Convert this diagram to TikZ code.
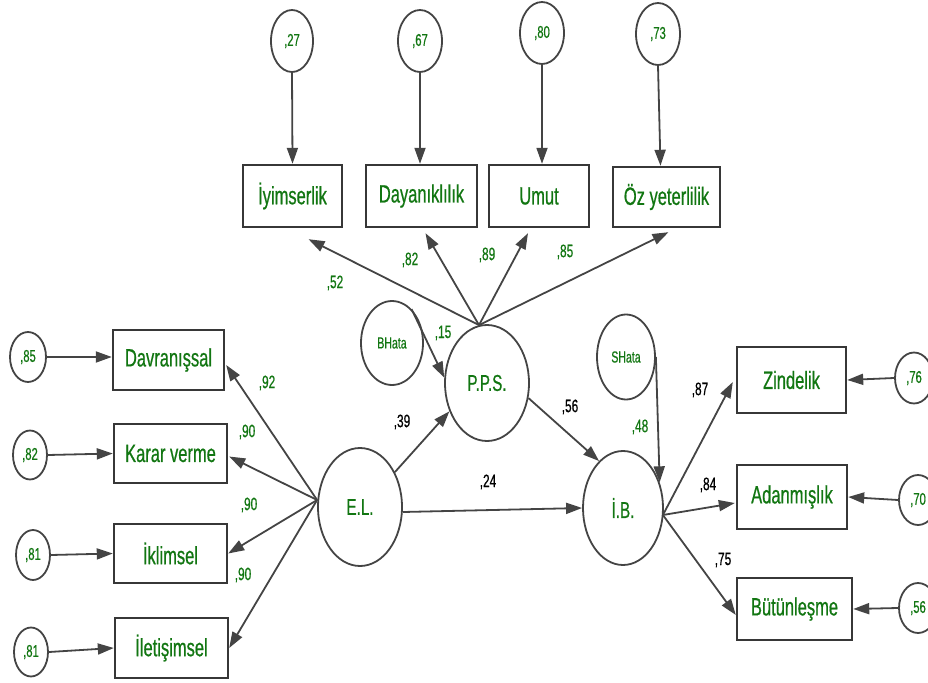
\documentclass[tikz,border=0pt]{standalone}
\usepackage{fontspec}
\setmainfont{Liberation Sans}[FakeStretch=0.66,FakeBold=0.6]
\usetikzlibrary{shapes.geometric,arrows.meta,calc}
\definecolor{txtgreen}{RGB}{18,118,18}
\definecolor{linegray}{RGB}{68,68,68}
\definecolor{boxgray}{RGB}{55,55,55}
\tikzset{
  obs/.style={draw=boxgray,line width=2.4pt,rectangle,inner sep=0pt,
    text=txtgreen,font=\fontsize{25}{27}\selectfont},
  latent/.style={draw=linegray,line width=1.8pt,ellipse,inner sep=0pt,
    text=txtgreen,font=\fontsize{23}{25}\selectfont},
  err/.style={draw=linegray,line width=1.8pt,ellipse,inner sep=0pt,
    text=txtgreen,font=\fontsize{17}{19}\selectfont},
  dist/.style={err,font=\fontsize{16}{18}\selectfont},
  path/.style={draw=linegray,line width=1.8pt,
    -{Triangle[length=16pt,width=11pt]}},
  coef/.style={inner sep=0pt,font=\fontsize{18}{20}\selectfont},
  gcoef/.style={coef,text=txtgreen},
  kcoef/.style={coef,text=black},
}
\begin{document}
\begin{tikzpicture}[x=1pt,y=-1pt]
\useasboundingbox (0,0) rectangle (928,682);

% observed indicators
\node[obs,minimum width=99pt,minimum height=62pt]  (iyi)   at (292.5,196) {İyimserlik};
\node[obs,minimum width=111pt,minimum height=62pt] (day)   at (421.5,196) {Dayanıklılık};
\node[obs,minimum width=100pt,minimum height=62pt] (umut)  at (539,196)   {Umut};
\node[obs,minimum width=107pt,minimum height=60pt] (oz)    at (666.5,197) {Öz yeterlilik};
\node[obs,minimum width=111pt,minimum height=60pt] (davr)  at (168.5,360) {Davranışsal};
\node[obs,minimum width=113pt,minimum height=59pt] (karar) at (170.5,453.5) {Karar verme};
\node[obs,minimum width=113pt,minimum height=59pt] (ikl)   at (170.5,553.5) {İklimsel};
\node[obs,minimum width=113pt,minimum height=60pt] (ilet)  at (171.5,648) {İletişimsel};
\node[obs,minimum width=109pt,minimum height=66pt] (zin)   at (791.5,380) {Zindelik};
\node[obs,minimum width=110pt,minimum height=64pt] (adan)  at (792,497)   {Adanmışlık};
\node[obs,minimum width=115pt,minimum height=62pt] (but)   at (794.5,609) {Bütünleşme};

% latent variables
\node[latent,minimum width=84pt,minimum height=116pt] (pps) at (487,383) {P.P.S.};
\node[latent,minimum width=84pt,minimum height=118pt] (el)  at (360,507) {E.L.};
\node[latent,minimum width=80pt,minimum height=114pt] (ib)  at (623,508) {İ.B.};

% disturbance terms
\node[dist,minimum width=62pt,minimum height=84pt] (bh) at (392,343) {BHata};
\node[dist,minimum width=58pt,minimum height=85pt] (sh) at (626,357) {SHata};

% error terms
\node[err,minimum width=42pt,minimum height=62pt] (e27) at (292,41) {,27};
\node[err,minimum width=44pt,minimum height=62pt] (e67) at (420,41) {,67};
\node[err,minimum width=44pt,minimum height=62pt] (e80) at (542,33) {,80};
\node[err,minimum width=44pt,minimum height=62pt] (e73) at (658,34) {,73};
\node[err,minimum width=36pt,minimum height=50pt] (e85) at (28,357) {,85};
\node[err,minimum width=34pt,minimum height=49pt] (e82) at (30,455) {,82};
\node[err,minimum width=34pt,minimum height=50pt] (e81a) at (33,555) {,81};
\node[err,minimum width=34pt,minimum height=49pt] (e81b) at (31,652) {,81};
\node[err,minimum width=38pt,minimum height=51pt] (e76) at (914,378) {,76};
\node[err,minimum width=38pt,minimum height=50pt] (e70) at (918,500) {,70};
\node[err,minimum width=38pt,minimum height=50pt] (e56) at (918,608) {,56};

% error paths
\draw[path] (e27.south) -- (iyi.north);
\draw[path] (e67.south) -- (e67.south |- day.north);
\draw[path] (e80.south) -- (e80.south |- umut.north);
\draw[path] (e73.south) -- ($(oz.north)+(-6,0)$);
\draw[path] (e85.east) -- (e85.east -| davr.west);
\draw[path] (e82.east) -- (karar.west);
\draw[path] (e81a.east) -- (ikl.west);
\draw[path] (e81b.east) -- (ilet.west);
\draw[path] (e76.west) -- (zin.east);
\draw[path] (e70.west) -- (adan.east);
\draw[path] (e56.west) -- (but.east);

% measurement paths
\coordinate (ppstop) at ($(pps.north)+(-8,1)$);
\draw[path] (ppstop) -- ($(iyi.south)+(16,11)$);
\draw[path] (ppstop) -- ($(day.south)+(4,5)$);
\draw[path] (ppstop) -- ($(umut.south)+(-11,5)$);
\draw[path] (ppstop) -- ($(oz.south)+(2,4)$);

\coordinate (elleft) at ($(el.west)+(0,-7)$);
\draw[path] (elleft) -- ($(davr.east)+(1,5)$);
\draw[path] (elleft) -- ($(karar.east)+(1,3)$);
\draw[path] (elleft) -- (ikl.east);
\draw[path] (elleft) -- (ilet.east);

\coordinate (ibright) at ($(ib.east)+(-1,7)$);
\draw[path] (ibright) -- ($(zin.west)+(-3,2)$);
\draw[path] (ibright) -- ($(adan.west)+(-1,6)$);
\draw[path] (ibright) -- ($(but.west)+(0,6)$);

% structural paths
\draw[path] (el.45) -- (pps.217);
\draw[path] ($(el.east)+(0,5)$) -- (ib.west);
\draw[path] (pps.-20) -- (ib.117);
\draw[path] (bh.60) -- (pps.173);
\draw[path] (sh.east) -- (ib.35);

% coefficients
\node[gcoef] (c52) at (335,283) {,52};
\node[gcoef] (c82) at (410,260) {,82};
\node[gcoef] (c89) at (487,255) {,89};
\node[gcoef] (c85) at (565,252) {,85};
\node[gcoef] (c15) at (443,333) {,15};
\node[kcoef] (c39) at (402,422) {,39};
\node[kcoef] (c56) at (570,407) {,56};
\node[kcoef] (c24) at (488,482) {,24};
\node[gcoef] (c48) at (640,427) {,48};
\node[gcoef] (c92) at (267,383) {,92};
\node[gcoef] (c90a) at (247,432) {,90};
\node[gcoef] (c90b) at (249,505) {,90};
\node[gcoef] (c90c) at (243,575) {,90};
\node[kcoef] (c87) at (700,390) {,87};
\node[kcoef] (c84) at (708,485) {,84};
\node[kcoef] (c75) at (723,560) {,75};
\end{tikzpicture}
\end{document}
